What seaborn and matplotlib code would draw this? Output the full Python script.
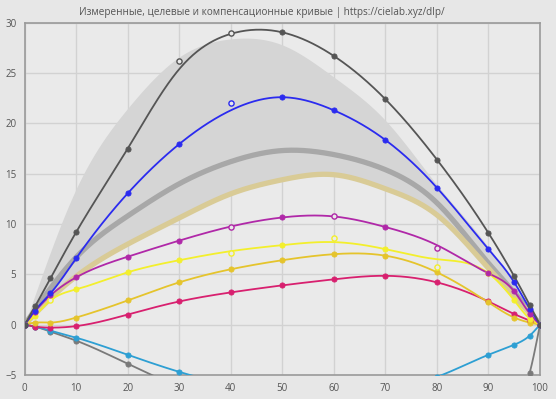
import numpy as np
import pandas as pd
import matplotlib
matplotlib.use("Agg")
import matplotlib.pyplot as plt
import seaborn as sns

# ---------------- data ----------------
X = [0, 2, 5, 10, 20, 30, 40, 50, 60, 70, 80, 90, 95, 98, 100]

k_line = [0, 1.8, 4.6, 9.2, 17.5, 25.4, 28.9, 29.05, 26.7, 22.4, 16.4, 9.1, 4.8, 1.95, 0]
b_line = [0, 1.4, 3.1, 6.6, 13.05, 17.95, 21.3, 22.6, 21.3, 18.35, 13.6, 7.5, 4.2, 1.6, 0]
m_line = [0, 1.3, 2.9, 4.7, 6.75, 8.35, 9.75, 10.65, 10.75, 9.7, 7.9, 5.1, 3.3, 1.1, 0]
y_line = [0, 0.9, 2.4, 3.5, 5.2, 6.4, 7.3, 7.9, 8.2, 7.5, 6.5, 5.1, 2.4, 0.6, 0]
g_line = [0, 0.2, 0.2, 0.7, 2.4, 4.2, 5.5, 6.4, 7.0, 6.85, 5.2, 2.2, 0.7, 0.2, 0]
r_line = [0, -0.2, -0.3, -0.15, 1.0, 2.3, 3.2, 3.9, 4.5, 4.85, 4.2, 2.3, 1.05, 0.4, 0]
c_line = [0, -0.2, -0.6, -1.3, -3.0, -4.7, -6.0, -6.8, -7.0, -6.5, -5.2, -3.0, -2.0, -1.1, 0]
n_line = [0, -0.2, -0.7, -1.6, -3.9, -6.2, -8.2, -10.0, -11.5, -12.5, -12.5, -10.5, -8.4, -4.8, 0]

# measured points that deviate from the fitted curve (drawn hollow)
k_open_x = [30, 40]
k_open_y = [26.2, 29.0]
b_open_x = [40]
b_open_y = [22.06]
m_open_x = [40, 60, 80]
m_open_y = [9.7, 10.8, 7.6]
y_open_x = [5, 40, 60, 80, 90]
y_open_y = [2.4, 7.15, 8.6, 5.75, 5.1]

# target / compensation bands
BX = [0, 5, 10, 20, 30, 40, 50, 60, 70, 80, 90, 95, 100]
upper = [0, 7.2, 13.5, 21.5, 26.6, 28.4, 27.8, 24.6, 20.3, 13.9, 7.7, 4.0, 0]
gray_band = [0, 3.6, 6.7, 10.8, 14.0, 16.2, 17.3, 16.9, 15.4, 12.1, 6.1, 3.2, 0]
tan_band = [0, 2.6, 4.8, 8.0, 10.6, 13.0, 14.4, 14.9, 13.5, 10.9, 5.6, 2.8, 0]

title = "Измеренные, целевые и компенсационные кривые | https://cielab.xyz/dlp/"
xticks = list(range(0, 101, 10))
yticks = list(range(-5, 31, 5))


def spline(x, y, n=500):
    x = np.asarray(x, float)
    y = np.asarray(y, float)
    nn = len(x)
    h = np.diff(x)
    A = np.zeros((nn, nn))
    b = np.zeros(nn)
    A[0, 0] = 1
    A[-1, -1] = 1
    for i in range(1, nn - 1):
        A[i, i - 1] = h[i - 1]
        A[i, i] = 2 * (h[i - 1] + h[i])
        A[i, i + 1] = h[i]
        b[i] = 3 * ((y[i + 1] - y[i]) / h[i] - (y[i] - y[i - 1]) / h[i - 1])
    c = np.linalg.solve(A, b)
    xs = np.linspace(x[0], x[-1], n)
    idx = np.clip(np.searchsorted(x, xs) - 1, 0, nn - 2)
    dx = xs - x[idx]
    bc = (y[1:] - y[:-1]) / h - h * (2 * c[:-1] + c[1:]) / 3
    d = (c[1:] - c[:-1]) / (3 * h)
    ys = y[idx] + bc[idx] * dx + c[idx] * dx ** 2 + d[idx] * dx ** 3
    return xs, ys


sns.set_style("white")
plt.rcParams["font.family"] = ["Open Sans", "DejaVu Sans"]

fig = plt.figure(figsize=(5.56, 3.99), dpi=100, facecolor="#e7e7e7")
ax = fig.add_axes([0.0444, 0.0604, 0.9268, 0.8825])
ax.set_facecolor("#eaeaea")

# shaded region between target band and upper limit
ux, uy = spline(BX, upper)
tx, ty = spline(BX, tan_band)
ax.fill_between(ux, ty, uy, color="#d5d5d5", lw=0, zorder=1)

gx, gy = spline(BX, gray_band)
sns.lineplot(x=gx, y=gy, ax=ax, color="#a8a8a8", lw=3.8, zorder=2, sort=False, estimator=None)
sns.lineplot(x=tx, y=ty, ax=ax, color="#d9cb96", lw=3.8, zorder=2, sort=False, estimator=None)

series = [
    (n_line, "#7a7a7a", None, None),
    (c_line, "#2d9fd3", None, None),
    (r_line, "#d8206f", None, None),
    (g_line, "#e5c42c", None, None),
    (y_line, "#f3ef2c", y_open_x, y_open_y),
    (m_line, "#b028a8", m_open_x, m_open_y),
    (b_line, "#2b2bef", b_open_x, b_open_y),
    (k_line, "#555555", k_open_x, k_open_y),
]

for vals, col, ox, oy in series:
    sx, sy = spline(X, vals)
    sns.lineplot(x=sx, y=sy, ax=ax, color=col, lw=1.3, zorder=3, sort=False, estimator=None)
    df = pd.DataFrame({"x": X, "y": vals})
    if ox is not None:
        df = df[~df["x"].isin(ox)]
    sns.scatterplot(data=df, x="x", y="y", ax=ax, color=col, s=14, edgecolor=col,
                    linewidth=0.6, zorder=4)
    if ox is not None:
        sns.scatterplot(x=ox, y=oy, ax=ax, color="#eaeaea", s=14, edgecolor=col,
                        linewidth=1.0, zorder=4)

ax.set_xlim(0, 100)
ax.set_ylim(-5, 30)
ax.set_xticks(xticks)
ax.set_yticks(yticks)
ax.set_xlabel("")
ax.set_ylabel("")
ax.grid(True, color="#d2d2d2", lw=1.0, zorder=0)
ax.set_axisbelow(True)
for sp in ax.spines.values():
    sp.set_color("#9a9a9a")
    sp.set_linewidth(1.2)
ax.tick_params(axis="both", direction="out", length=4, width=0.8, color="#888888",
               labelcolor="#555555", labelsize=7, pad=2)

fig.text(0.471, 0.968, title, ha="center", va="center", fontsize=7.2, color="#555555")

fig.savefig("out.png", dpi=100, facecolor=fig.get_facecolor())
